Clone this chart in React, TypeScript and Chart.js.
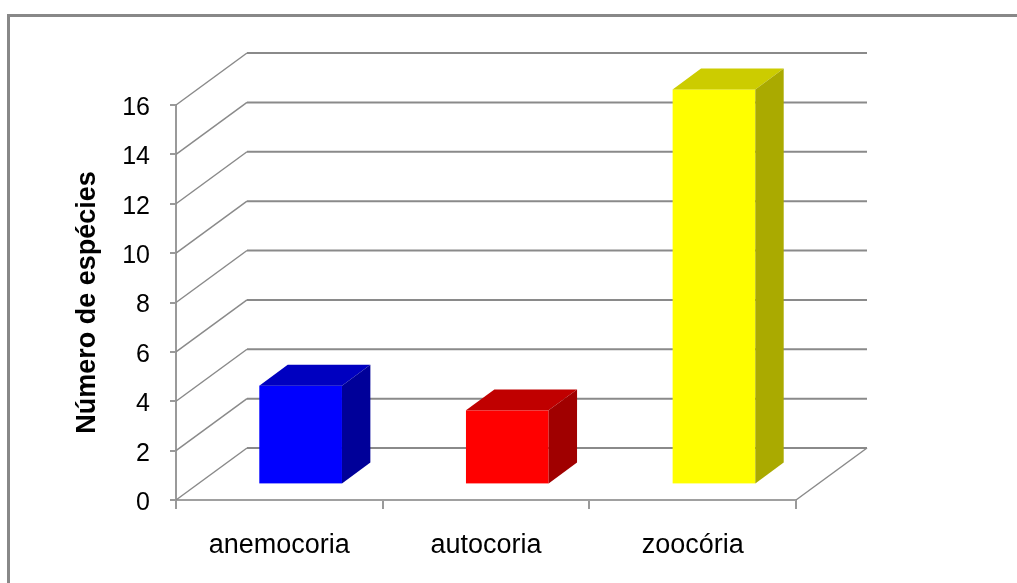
import React, { useEffect, useRef } from "react";
import { Chart, registerables } from "chart.js";

Chart.register(...registerables);

// Seed dispersal syndromes and number of species in each
const categories = ["anemocoria", "autocoria", "zoocória"];
const speciesCounts = [4, 3, 16];

// Face colours of each column: front, top and right side
const frontColors = ["#0000FF", "#FF0000", "#FFFF00"];
const topColors = ["#0000C0", "#C00000", "#CCCC00"];
const sideColors = ["#000099", "#A00000", "#AAAA00"];

const axisTitle = "Número de espécies";
const yMin = 0;
const yMax = 16;
const yStep = 2;

// Pseudo-3D projection of the plot's depth axis (pixels)
const DEPTH_X = 71;
const DEPTH_Y = -52;
const BAR_FRONT = 0.3; // columns start at 30% of the floor depth
const BAR_DEPTH = 0.4; // and occupy 40% of it

const FONT = "'Liberation Sans', Arial, sans-serif";
const GRID = "#8a8a8a";

const frameAndWalls = {
  id: "frameAndWalls",
  beforeDraw(chart: any) {
    const ctx = chart.ctx;
    ctx.save();
    ctx.strokeStyle = "#888888";
    ctx.lineWidth = 3;
    ctx.beginPath();
    ctx.moveTo(8.5, chart.height + 10);
    ctx.lineTo(8.5, 15.5);
    ctx.lineTo(chart.width + 10, 15.5);
    ctx.stroke();
    ctx.restore();
  },
  beforeDatasetsDraw(chart: any) {
    const ctx = chart.ctx;
    const { left, right, bottom } = chart.chartArea;
    const y = chart.scales.y;
    ctx.save();
    ctx.strokeStyle = GRID;
    y.ticks.forEach((t: any) => {
      const py = y.getPixelForValue(t.value);
      // side wall diagonal
      ctx.lineWidth = 1.5;
      ctx.beginPath();
      ctx.moveTo(left, py);
      ctx.lineTo(left + DEPTH_X, py + DEPTH_Y);
      ctx.stroke();
      // back wall gridline
      ctx.lineWidth = 2;
      ctx.beginPath();
      ctx.moveTo(left + DEPTH_X, py + DEPTH_Y);
      ctx.lineTo(right + DEPTH_X, py + DEPTH_Y);
      ctx.stroke();
    });
    // right edge of the floor
    ctx.lineWidth = 1.5;
    ctx.beginPath();
    ctx.moveTo(right, bottom);
    ctx.lineTo(right + DEPTH_X, bottom + DEPTH_Y);
    ctx.stroke();
    ctx.restore();
  },
  afterDatasetsDraw(chart: any) {
    const ctx = chart.ctx;
    const meta = chart.getDatasetMeta(0);
    const fdx = BAR_FRONT * DEPTH_X;
    const fdy = BAR_FRONT * DEPTH_Y;
    const ddx = BAR_DEPTH * DEPTH_X;
    const ddy = BAR_DEPTH * DEPTH_Y;
    ctx.save();
    meta.data.forEach((bar: any, i: number) => {
      const { x, y, base, width } = bar.getProps(["x", "y", "base", "width"], true);
      const x0 = x - width / 2 + fdx;
      const x1 = x0 + width;
      const yTop = y + fdy;
      const yBot = base + fdy;
      // front face
      ctx.fillStyle = frontColors[i];
      ctx.fillRect(x0, yTop, width, yBot - yTop);
      // top face
      ctx.fillStyle = topColors[i];
      ctx.beginPath();
      ctx.moveTo(x0, yTop);
      ctx.lineTo(x1, yTop);
      ctx.lineTo(x1 + ddx, yTop + ddy);
      ctx.lineTo(x0 + ddx, yTop + ddy);
      ctx.closePath();
      ctx.fill();
      // right side face
      ctx.fillStyle = sideColors[i];
      ctx.beginPath();
      ctx.moveTo(x1, yTop);
      ctx.lineTo(x1 + ddx, yTop + ddy);
      ctx.lineTo(x1 + ddx, yBot + ddy);
      ctx.lineTo(x1, yBot);
      ctx.closePath();
      ctx.fill();
    });
    ctx.restore();
  },
};

export default function App() {
  const canvasRef = useRef<HTMLCanvasElement | null>(null);

  useEffect(() => {
    if (!canvasRef.current) return;
    const chart = new Chart(canvasRef.current, {
      type: "bar",
      data: {
        labels: categories,
        datasets: [
          {
            data: speciesCounts,
            backgroundColor: "rgba(0,0,0,0)",
            borderWidth: 0,
            barPercentage: 1,
            categoryPercentage: 0.4,
          },
        ],
      },
      plugins: [frameAndWalls],
      options: {
        responsive: false,
        devicePixelRatio: 1,
        animation: false,
        layout: { padding: { left: 0, right: 221, top: 105, bottom: 0 } },
        plugins: {
          legend: { display: false },
          tooltip: { enabled: false },
        },
        scales: {
          x: {
            offset: true,
            grid: {
              offset: true,
              drawOnChartArea: false,
              drawTicks: true,
              tickLength: 9,
              color: "#9a9a9a",
              lineWidth: 2,
            },
            border: { display: true, color: "#a0a0a0", width: 2 },
            ticks: {
              color: "#000000",
              padding: 20,
              font: { family: FONT, size: 27 },
            },
            afterFit(scale: any) {
              scale.height = 83;
            },
          },
          y: {
            min: yMin,
            max: yMax,
            ticks: {
              stepSize: yStep,
              color: "#000000",
              padding: 20,
              labelOffset: 3,
              font: { family: FONT, size: 25 },
            },
            grid: {
              drawOnChartArea: false,
              drawTicks: true,
              tickLength: 6,
              color: "#9a9a9a",
              lineWidth: 2,
            },
            border: { display: true, color: "#9a9a9a", width: 2 },
            title: {
              display: true,
              text: axisTitle,
              color: "#000000",
              padding: { top: 71, bottom: 0 },
              font: { family: FONT, size: 27, weight: "bold" },
            },
            afterFit(scale: any) {
              scale.width = 176;
            },
          },
        },
      },
    });
    return () => chart.destroy();
  }, []);

  return (
    <div style={{ position: "fixed", left: 0, top: 0, width: 1017, height: 583, background: "#ffffff" }}>
      <canvas ref={canvasRef} width={1017} height={583} />
    </div>
  );
}
